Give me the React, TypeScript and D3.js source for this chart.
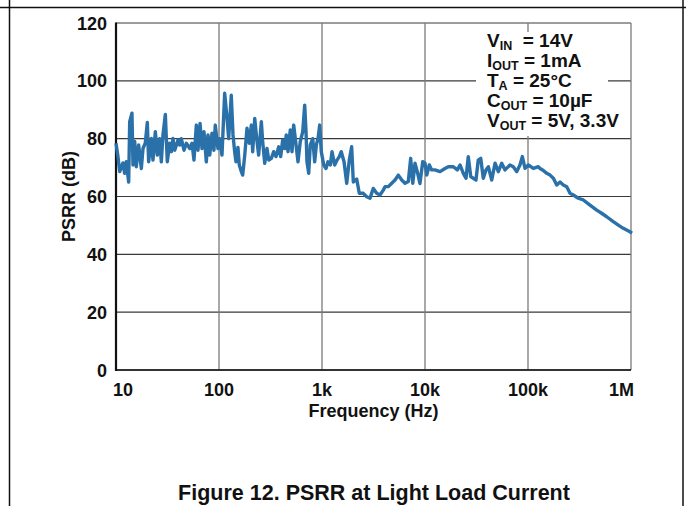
import React from "react";
import * as d3 from "d3";

// log10(frequency in Hz) of each sample
const freqExp: number[] = [
  1.000,1.019,1.036,1.068,1.084,1.100,1.123,1.133,1.155,1.165,1.182,1.197,1.220,1.246,1.262,1.284,1.304,1.317,1.343,1.359,
  1.382,1.401,1.424,1.440,1.456,1.479,1.498,1.521,1.537,1.553,1.570,1.602,1.618,1.634,1.660,1.683,1.716,1.738,1.757,1.780,
  1.796,1.816,1.835,1.854,1.877,1.893,1.910,1.932,1.951,1.964,1.990,2.007,
  2.029,2.055,2.078,2.094,2.119,2.136,2.152,2.165,2.184,2.197,2.217,2.230,2.250,2.272,2.294,2.314,2.327,2.347,2.366,2.385,
  2.411,2.424,2.444,2.466,2.483,2.508,2.531,2.553,2.580,2.599,2.618,2.638,2.653,2.670,2.692,2.709,2.725,2.741,2.767,2.789,
  2.813,2.832,2.845,2.854,2.871,2.886,2.910,2.929,2.945,2.961,2.978,2.993,
  3.017,3.039,3.058,3.081,3.097,3.123,3.146,3.168,3.187,3.214,3.240,3.265,3.288,3.304,3.337,3.362,3.401,3.434,3.466,3.498,
  3.531,3.563,3.595,3.612,3.644,3.677,3.709,3.741,3.774,3.806,3.838,3.861,3.881,3.903,3.925,3.951,3.978,
  4.000,4.017,4.042,4.065,4.097,4.146,4.194,4.226,4.275,4.314,4.340,4.372,4.398,4.420,4.444,4.469,4.495,4.517,4.541,4.566,
  4.592,4.615,4.648,4.680,4.712,4.745,4.777,4.825,4.857,4.890,4.922,4.945,4.971,
  5.003,5.052,5.100,5.117,5.149,5.182,5.214,5.246,5.279,5.311,5.343,5.376,5.408,5.440,5.488,5.537,5.602,5.667,5.715,5.764,
  5.828,5.877,5.925,5.990,6.010,
];

// PSRR (dB) at each sample
const psrrDb: number[] = [
  78.4,73.8,68.6,71.6,68,72,65,85.9,88.8,70.9,79,70.3,77.8,69.7,76.6,78.4,85.6,72,80.1,72.6,
  82.4,74.3,80,72,81.3,88.4,72,78.4,75.5,80.1,76,79.5,77.8,80,76,78.4,76.6,78.4,72.6,84.7,
  76,85.3,76.6,82.4,72,81.3,74.3,81.9,76,84.7,76.6,80,
  74.3,95.7,87,80,95,81.3,75.5,72,77,70.9,68.6,67.4,74.3,83.6,78.4,84.7,75.5,87,80,74.3,
  85.9,79,71.5,76.6,72.6,73.2,75.5,73.8,77.2,73.8,79.5,76.6,81.3,75.5,83,75.5,84.7,80,72,79,
  82.4,91.6,82.4,72,68,77.8,80,72,77.8,80,84.7,75.5,
  70.9,69.7,72,70.9,75.5,70.9,72.6,73.8,75.5,72,64.6,72.6,77.2,65,66,61.1,61.1,59.9,59.4,62.8,
  61.1,60.5,62.2,63.4,63.4,64.6,65.7,67.4,65.7,64.6,65.2,73.2,64.6,71.5,68.6,64.5,72,
  71.5,67.4,70.9,69.2,69.2,68.6,69.7,70.3,70.3,69.2,70.9,68,66.3,73.8,66.9,66.3,65.7,72.6,73.2,66.3,
  69.2,70.3,65.7,71.5,68.6,71.5,69.2,70.9,70.3,68.6,70.9,73.8,69.7,
  70.9,69.7,70.3,69.7,69,68,67.4,66.3,64,65,64,63.4,61.1,60.5,59.4,58.8,57,55.3,54.2,53,
  51.3,50.1,49,47.8,47.3,
];

const xTicks: number[] = [10, 100, 1000, 10000, 100000, 1000000];
const xTickLabels: string[] = ["10", "100", "1k", "10k", "100k", "1M"];
const yTicks: number[] = [0, 20, 40, 60, 80, 100, 120];

const legendLines: { main: string; sub: string; rest: string }[] = [
  { main: "V", sub: "IN", rest: "  = 14V" },
  { main: "I", sub: "OUT", rest: " = 1mA" },
  { main: "T", sub: "A", rest: " = 25°C" },
  { main: "C", sub: "OUT", rest: " = 10µF" },
  { main: "V", sub: "OUT", rest: " = 5V, 3.3V" },
];

const W = 686;
const H = 506;
const PL = 116, PR = 631, PT = 23, PB = 370;
const FONT = "'Liberation Sans', Arial, Helvetica, sans-serif";
const LINE_COLOR = "#2a70a9";

export default function App() {
  const x = d3.scaleLog().domain([10, 1e6]).range([PL, PR]);
  const y = d3.scaleLinear().domain([0, 120]).range([PB, PT]);
  const n = Math.min(freqExp.length, psrrDb.length);
  const pts: [number, number][] = [];
  for (let i = 0; i < n; i++) pts.push([Math.pow(10, freqExp[i]), psrrDb[i]]);
  const line = d3
    .line<[number, number]>()
    .x((d) => x(d[0]))
    .y((d) => y(d[1]));

  return (
    <svg
      width={W}
      height={H}
      style={{ position: "absolute", left: 0, top: 0, background: "#fff" }}
      fontFamily={FONT}
      fontWeight="bold"
    >
      <rect x={0} y={0} width={W} height={H} fill="#fff" />
      {/* page frame */}
      <line x1={0} x2={W} y1={7.5} y2={7.5} stroke="#111" strokeWidth={1.5} />
      <line x1={9.5} x2={9.5} y1={0} y2={H} stroke="#111" strokeWidth={1.5} />
      <line x1={683} x2={683} y1={0} y2={H} stroke="#111" strokeWidth={1.5} />

      {/* horizontal grid */}
      {yTicks.map((t) => (
        <line key={"h" + t} x1={PL} x2={PR} y1={y(t)} y2={y(t)} stroke="#3a3a3a" strokeWidth={1.2} />
      ))}
      {/* vertical grid */}
      {xTicks.map((t) => (
        <line key={"v" + t} x1={x(t)} x2={x(t)} y1={PT} y2={PB} stroke="#7a7a7a" strokeWidth={1.3} />
      ))}
      {/* legend box */}
      <rect x={476} y={32} width={132} height={104} fill="#fff" />
      {/* axes */}
      <line x1={PL} x2={PL} y1={PT - 0.5} y2={PB + 1} stroke="#111" strokeWidth={2.2} />
      <line x1={PL} x2={PR} y1={PB} y2={PB} stroke="#111" strokeWidth={1.6} />

      {/* data */}
      <path d={line(pts) || ""} fill="none" stroke={LINE_COLOR} strokeWidth={3.4} strokeLinejoin="round" />

      {/* y tick labels */}
      {yTicks.map((t) => (
        <text key={"yl" + t} x={107} y={y(t) + 6.5} textAnchor="end" fontSize={18} fill="#111">
          {t}
        </text>
      ))}
      {/* x tick labels */}
      {xTicks.map((t, i) => (
        <text
          key={"xl" + t}
          x={x(t) + (i === 0 ? -3 : i === xTicks.length - 1 ? 3 : 0)}
          y={396}
          textAnchor={i === 0 ? "start" : i === xTicks.length - 1 ? "end" : "middle"}
          fontSize={18}
          fill="#111"
        >
          {xTickLabels[i]}
        </text>
      ))}
      <text x={(PL + PR) / 2} y={417} textAnchor="middle" fontSize={18} fill="#111">
        Frequency (Hz)
      </text>
      <text
        transform={`translate(74.5, ${(PT + PB) / 2}) rotate(-90)`}
        textAnchor="middle"
        fontSize={18}
        fill="#111"
      >
        PSRR (dB)
      </text>

      {/* legend */}
      {legendLines.map((l, i) => (
        <text key={"lg" + i} x={487} y={46.5 + 20.1 * i} fontSize={19} fill="#111" xmlSpace="preserve">
          {l.main}
          <tspan fontSize={12.5} dy={3}>{l.sub}</tspan>
          <tspan dy={-3}>{l.rest}</tspan>
        </text>
      ))}

      <text x={374} y={500} textAnchor="middle" fontSize={21.5} fill="#111">
        Figure 12. PSRR at Light Load Current
      </text>
    </svg>
  );
}
